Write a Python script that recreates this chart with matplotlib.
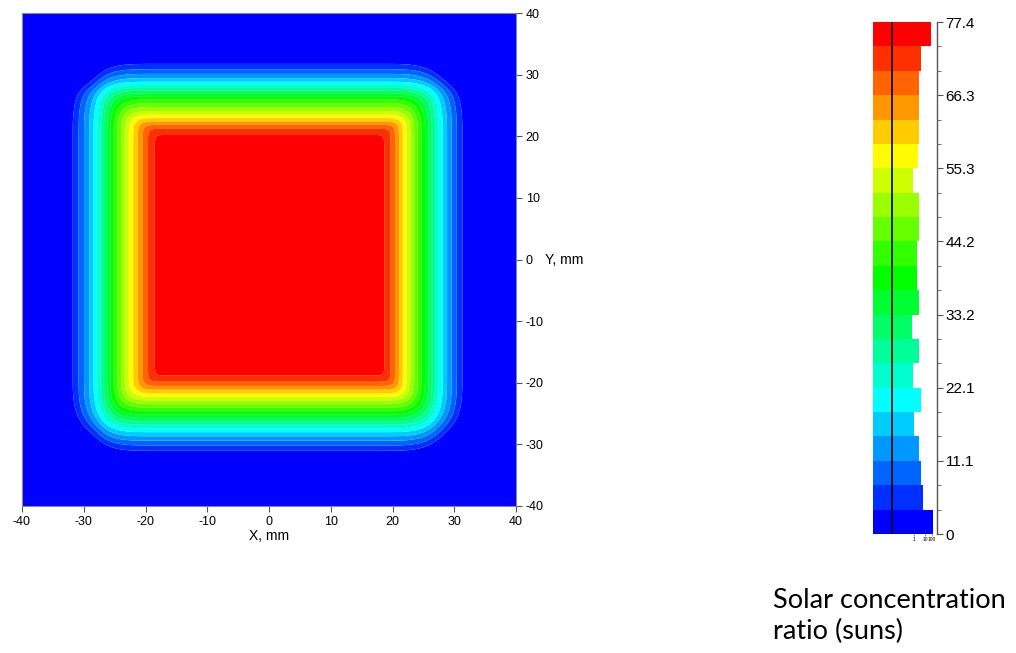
import numpy as np
import matplotlib
matplotlib.use("Agg")
import matplotlib.pyplot as plt
from matplotlib.colors import LinearSegmentedColormap

plt.rcParams['font.family'] = ['Liberation Sans', 'DejaVu Sans']
plt.rcParams['axes.unicode_minus'] = False

# Cross-section profiles (mm -> suns)
x_profile_pos = [-40, -32.5, -31.7, -28.2, -25.75, -22.8, -18.9, -16.5,
                 16.5, 19.2, 22.3, 25.3, 28.0, 31.2, 32.0, 40]
y_profile_pos = [-40, -31.7, -30.9, -27.9, -25.2, -22.3, -19.4, -16.5,
                 17.5, 20.9, 23.4, 26.7, 28.6, 31.6, 32.4, 40]
profile_vals = [0, 0, 3.69, 18.4, 36.9, 55.3, 73.7, 77.4,
                77.4, 73.7, 55.3, 36.9, 18.4, 3.69, 0, 0]
corner_power = 3.5  # how square the corners are

peak = 77.4
n_bands = 21
tick_labels = ['0', '11.1', '22.1', '33.2', '44.2', '55.3', '66.3', '77.4']

# histogram bar lengths, bottom (blue) to top (red), arbitrary units
hist_len = [60.6, 50.0, 48.0, 46.6, 41.3, 48.0, 40.0, 46.6, 39.0, 46.6, 44.6,
            44.0, 46.6, 46.6, 40.0, 45.6, 46.6, 46.6, 46.6, 48.0, 58.0]
hist_ticks = [41.3, 52.3, 59.0]
hist_tick_labels = ['1', '10', '100']

cmap = LinearSegmentedColormap.from_list(
    'sun', ['#0000ff', '#00ffff', '#00ff00', '#ffff00', '#ff0000'])
colors = [cmap(i / (n_bands - 1)) for i in range(n_bands)]
levels = np.linspace(0, peak, n_bands + 1)


def smooth_profile(grid, pos, vals, sigma=0.9):
    # piecewise profile softened with a small gaussian so the contours have no kinks
    prof = np.interp(grid, pos, vals)
    step = grid[1] - grid[0]
    t = np.arange(-int(4 * sigma / step), int(4 * sigma / step) + 1) * step
    k = np.exp(-0.5 * (t / sigma) ** 2)
    return np.convolve(prof, k / k.sum(), mode='same')


fig = plt.figure(figsize=(10.16, 6.53), dpi=100)
W, H = 1016, 653

# main map
ax = fig.add_axes([22 / W, (H - 506) / H, 494 / W, 493 / H])
g = np.linspace(-40, 40, 801)
X, Y = np.meshgrid(g, g)
px = smooth_profile(g, x_profile_pos, profile_vals)
py = smooth_profile(g, y_profile_pos, profile_vals)
# deficiency below the peak along each axis, combined as a rounded square
dx = np.clip(peak - px, 0, None)[None, :]
dy = np.clip(peak - py, 0, None)[:, None]
Z = peak - (dx ** corner_power + dy ** corner_power) ** (1.0 / corner_power)
Z = np.clip(Z, 0, peak - 1e-6)
ax.contourf(X, Y, Z, levels=levels, colors=colors, antialiased=True)
ax.set_xlim(-40, 40)
ax.set_ylim(-40, 40)
ax.set_xticks(np.arange(-40, 41, 10))
ax.set_yticks(np.arange(-40, 41, 10))
ax.yaxis.tick_right()
ax.tick_params(axis='both', labelsize=9, length=4, width=0.8, color='#555555', pad=3)
for s in ax.spines.values():
    s.set_color('#888888')
    s.set_linewidth(0.8)
ax.set_xlabel('X, mm', fontsize=10, labelpad=1)
ax.annotate('Y, mm', xy=(1.0, 0.5), xycoords='axes fraction', xytext=(21, 0),
            textcoords='offset points', fontsize=10, va='center', ha='left')

# histogram colour bar
cax = fig.add_axes([872.7 / W, (H - 534) / H, 64.6 / W, 512 / H])
step = peak / n_bands
cax.barh(levels[:-1], hist_len, height=step, align='edge', color=colors, linewidth=0)
cax.axvline(19.0, color='black', lw=1.2)
cax.set_xlim(0, 64.6)
cax.set_ylim(0, peak)
for side in ['left', 'top', 'bottom']:
    cax.spines[side].set_visible(False)
cax.spines['right'].set_color('#555555')
cax.spines['right'].set_linewidth(1.0)
cax.yaxis.tick_right()
cax.set_yticks(levels[::3])
cax.set_yticklabels(tick_labels)
cax.set_yticks(levels, minor=True)
cax.tick_params(axis='y', which='major', labelsize=11, length=4, color='#555555', pad=2)
cax.tick_params(axis='y', which='minor', length=3, color='#555555')
cax.set_xticks(hist_ticks)
cax.set_xticklabels(hist_tick_labels)
cax.tick_params(axis='x', labelsize=3.5, length=1.5, width=0.5, pad=1, color='#555555')

fig.text(773 / W, 1 - 616 / H, 'Solar concentration\nratio (suns)', fontsize=19.5,
         family=['Lato', 'DejaVu Sans'], va='center', ha='left', linespacing=1.3)

fig.savefig('out.png', dpi=100)
